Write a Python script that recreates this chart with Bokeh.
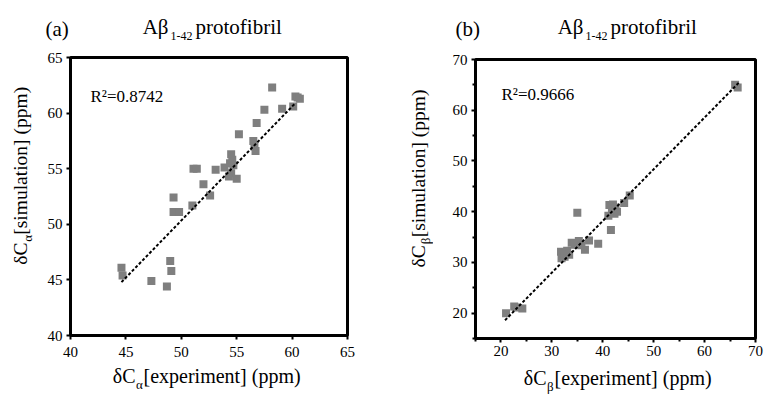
import math
from bokeh.plotting import figure
from bokeh.layouts import row, column
from bokeh.models import FixedTicker
from bokeh.core.properties import value
from bokeh.embed import file_html
from bokeh.resources import INLINE

# ---------------- data ----------------
# (a) C-alpha chemical shifts
ca_exp = [44.6, 44.7, 47.3, 48.7, 49.0, 49.1, 49.3, 49.3, 49.8, 51.0, 51.1, 51.4,
          52.0, 52.6, 53.1, 53.9, 54.3, 54.4, 54.5, 54.6, 54.5, 54.7, 55.0, 55.2,
          56.5, 56.6, 56.7, 56.8, 57.5, 58.2, 59.1, 60.1, 60.3, 60.5, 60.7]
ca_sim = [46.1, 45.4, 44.9, 44.4, 46.7, 45.8, 52.4, 51.1, 51.1, 51.7, 55.0, 55.0,
          53.6, 52.6, 54.9, 55.1, 54.3, 55.5, 56.3, 55.8, 54.6, 55.3, 54.1, 58.1,
          57.5, 57.0, 56.6, 59.1, 60.3, 62.3, 60.4, 60.6, 61.5, 61.4, 61.3]
ca_fit_x = [44.6, 60.3]
ca_fit_y = [44.8, 60.9]
ca_r2 = "R\u00b2=0.8742"
ca_ticks = [40, 45, 50, 55, 60, 65]

# (b) C-beta chemical shifts
cb_exp = [21.0, 22.6, 23.0, 24.2, 31.8, 31.9, 32.2, 32.5, 33.0, 33.4, 33.9, 34.5,
          35.0, 35.3, 35.8, 36.5, 37.3, 39.1, 41.1, 41.3, 41.6, 41.8, 42.0, 42.3,
          42.5, 42.8, 44.2, 45.3, 66.0, 66.5]
cb_sim = [20.0, 21.3, 21.1, 20.9, 32.1, 30.8, 31.5, 31.1, 32.3, 31.5, 33.9, 33.5,
          39.8, 34.2, 33.4, 32.5, 34.3, 33.7, 39.2, 41.3, 36.4, 40.2, 41.4, 39.6,
          40.8, 40.0, 41.7, 43.2, 65.0, 64.5]
cb_fit_x = [20.8, 66.8]
cb_fit_y = [18.6, 65.5]
cb_r2 = "R\u00b2=0.9666"
cb_ticks = [20, 30, 40, 50, 60, 70]
cb_minor = [15, 25, 35, 45, 55, 65]

FONT = "Liberation Serif"
TOP_H, MAIN_H, BOT_H = 45, 320, 29
PANEL_W = 383


def make_main(w, xr, yr, borders, ticks, minor, standoff_x):
    bl, br, bt, bb = borders
    p = figure(width=w, height=MAIN_H, x_range=xr, y_range=yr,
               output_backend="svg", toolbar_location=None,
               min_border_left=bl, min_border_right=br,
               min_border_top=bt, min_border_bottom=bb)
    p.xgrid.visible = False
    p.ygrid.visible = False
    p.outline_line_color = "black"
    p.outline_line_width = 3
    p.background_fill_color = "white"
    p.border_fill_color = "white"
    for ax in (p.xaxis[0], p.yaxis[0]):
        ax.ticker = FixedTicker(ticks=ticks, minor_ticks=minor)
        ax.axis_line_width = 3
        ax.axis_line_color = "black"
        ax.major_tick_line_width = 2
        ax.major_tick_in = 0
        ax.major_tick_out = 4
        ax.minor_tick_line_width = 2
        ax.minor_tick_in = 0
        ax.minor_tick_out = 3
        ax.major_label_text_font = FONT
        ax.major_label_text_font_size = "15px"
        ax.major_label_text_color = "black"
        ax.major_label_standoff = 4
    p.xaxis[0].major_label_standoff = standoff_x
    return p


def strip(w, h):
    s = figure(width=w, height=h, x_range=(0, w), y_range=(0, h),
               output_backend="svg", toolbar_location=None,
               x_axis_type=None, y_axis_type=None, min_border=0)
    s.outline_line_color = None
    s.background_fill_color = "white"
    s.border_fill_color = "white"
    s.grid.visible = False
    return s


def put(s, x, y, text, size, align="left", angle=0.0):
    # x, y: pixel position (text centre line) from the strip's top-left corner
    s.text(x=[x], y=[s.height - y], text=[text], text_font=value(FONT),
           text_font_size=value(size), text_align=align,
           text_baseline="middle", angle=angle, text_color="black")


def draw(p, xs, ys, fx, fy):
    p.scatter(xs, ys, marker="square", size=8, fill_color="#7f7f7f",
              line_color=None)
    p.line(fx, fy, line_color="black", line_width=2, line_dash="3 2")


def panel(tag, sub, xs, ys, fx, fy, r2, rng, ticks, minor, left_w, borders, g):
    top = strip(PANEL_W, TOP_H)
    put(top, g["tag_x"], 28, tag, "21px")
    put(top, g["t_j1"], 26, "A\u03b2", "21px", "right")
    put(top, g["t_j1"] + 2, 35, "1-42", "12px")
    put(top, g["t_j2"], 26, "protofibril", "21px")

    left = strip(left_w, MAIN_H)
    cx = g["ylab_x"]
    put(left, cx, 213, "\u03b4C", "19.5px", "right", math.pi / 2)
    put(left, cx + 7, 212, sub, "13px", "left", math.pi / 2)
    put(left, cx, 204, "[simulation] (ppm)", "19.5px", "left", math.pi / 2)

    main = make_main(PANEL_W - left_w, rng, rng, borders, ticks, minor, g["sx"])
    draw(main, xs, ys, fx, fy)
    main.text(x=[rng[0]], y=[rng[1]], text=[r2], text_font=value(FONT),
              text_font_size=value("17px"), text_baseline="middle",
              x_offset=g["r2_dx"], y_offset=g["r2_dy"], text_color="black")

    bot = strip(PANEL_W, BOT_H)
    j1, j2, yc = g["x_j1"], g["x_j2"], g["x_y"]
    put(bot, j1, yc, "\u03b4C", "20px", "right")
    put(bot, j1 + 0.5, yc + 8, sub, "13px")
    put(bot, j2, yc, "[experiment] (ppm)", "20px")

    return column(top, row(left, main), bot)


col_a = panel("(a)", "\u03b1", ca_exp, ca_sim, ca_fit_x, ca_fit_y, ca_r2,
              (40, 65), ca_ticks, [], 40, (30, 36, 12, 30),
              dict(tag_x=45, t_j1=168, t_j2=195, ylab_x=19.5, sx=7,
                   r2_dx=20, r2_dy=39, x_j1=135, x_j2=143, x_y=10.5))

col_b = panel("(b)", "\u03b2", cb_exp, cb_sim, cb_fit_x, cb_fit_y, cb_r2,
              (15, 70), cb_ticks, cb_minor, 50, (42, 11, 14, 27),
              dict(tag_x=72, t_j1=200, t_j2=227, ylab_x=34.5, sx=3,
                   r2_dx=26, r2_dy=35, x_j1=163, x_j2=171, x_y=12.5))

layout = row(col_a, col_b)
open("out.html", "w").write(file_html(layout, INLINE))
